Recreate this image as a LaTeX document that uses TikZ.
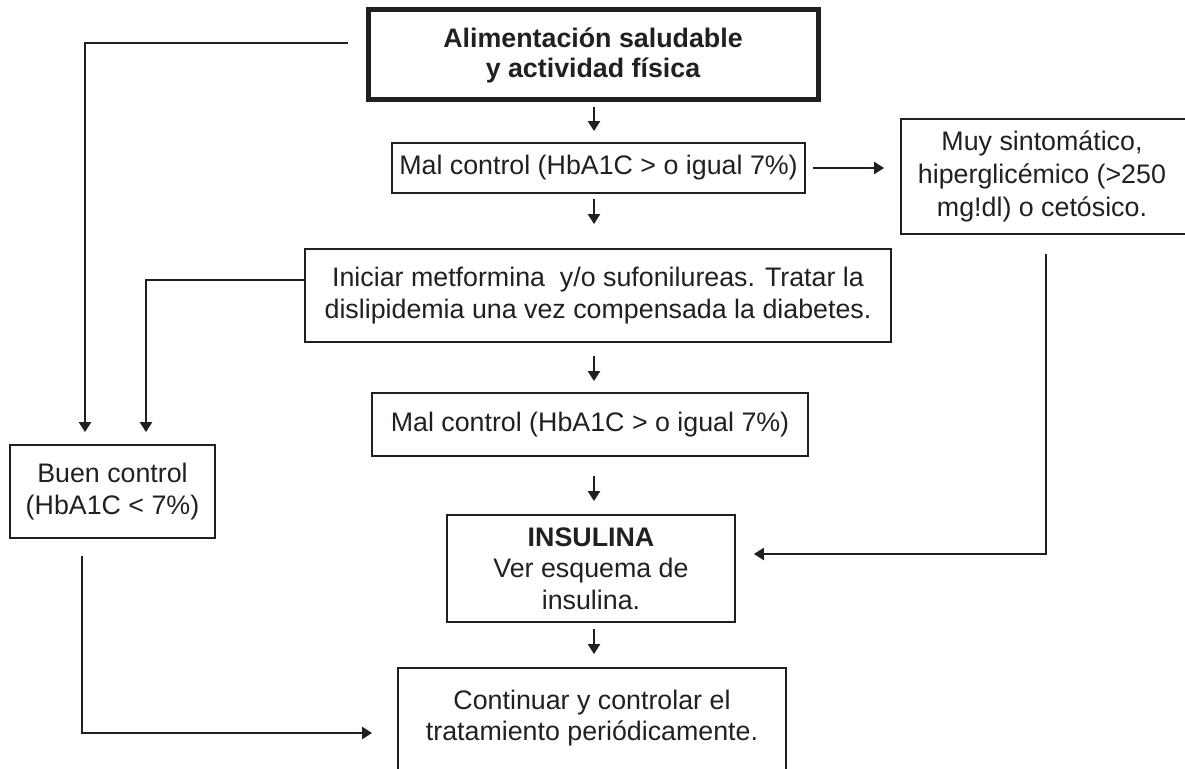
\documentclass[tikz,border=0pt]{standalone}
\usepackage{fontspec}
\setmainfont{Liberation Sans}
\usetikzlibrary{arrows.meta,calc}
\definecolor{ink}{RGB}{35,31,32}
\tikzset{
  box/.style={draw=ink, text=ink, line width=0.9pt, align=center, inner sep=0pt,
    font=\fontsize{13.4}{15.8}\selectfont},
  openbox/.style={box, draw=none},
  link/.style={draw=ink, line width=1.1pt},
  arr/.style={link, -{Triangle[length=5pt,width=6pt]}}
}
\begin{document}
\begin{tikzpicture}[x=0.5pt, y=-0.5pt]
  \useasboundingbox (0,0) rectangle (1185,769);
  \coordinate (spine) at (594,0);
  \coordinate (edgeR) at (1185,0);
  \coordinate (edgeB) at (0,769);

  % Boxes
  \node[box, line width=2.5pt, minimum width=225pt, minimum height=45pt, font=\fontsize{13.4}{15}\selectfont\bfseries]
    (alim) at (593,55) {Alimentación saludable\\y actividad física};
  \node[box, minimum width=206.5pt, minimum height=25pt] (mal1) at (598.5,168) {Mal control (HbA1C > o igual 7\%)};
  \node[openbox, minimum width=140pt, minimum height=56.5pt, font=\fontsize{13.4}{16.5}\selectfont] (muy) at (1042,176.5)
    {Muy sintomático,\\hiperglicémico (>250\\mg!dl) o cetósico.};
  \node[box, minimum width=293pt, minimum height=46.5pt] (inic) at (598,295.5)
    {Iniciar metformina\ \ y/o sufonilureas. Tratar la\\dislipidemia una vez compensada la diabetes.};
  \node[box, minimum width=218pt, minimum height=31.5pt] (mal2) at (590,424.5) {Mal control (HbA1C > o igual 7\%)};
  \node[box, minimum width=144pt, minimum height=53.5pt] (ins) at (591,568.5)
    {\textbf{INSULINA}\\Ver esquema de\\insulina.};
  \node[box, minimum width=102.5pt, minimum height=46.5pt] (buen) at (112.5,491.5) {Buen control\\(HbA1C < 7\%)};
  \node[openbox, minimum width=193pt, minimum height=49pt] (cont) at (592,718)
    {Continuar y controlar el\\tratamiento periódicamente.};

  % Open sides (cut by the page)
  \draw[link, line width=0.9pt] (muy.south -| edgeR) -- (muy.south west) -- (muy.north west) -- (muy.north -| edgeR);
  \draw[link, line width=0.9pt] (cont.west |- edgeB) -- (cont.north west) -- (cont.north east) -- (cont.east |- edgeB);

  % Main column
  \draw[arr, shorten <=2.5pt, shorten >=5.5pt] (alim.south -| spine) -- (mal1.north -| spine);
  \draw[arr, shorten <=2.5pt, shorten >=12pt] (mal1.south -| spine) -- (inic.north -| spine);
  \draw[arr, shorten <=6.5pt, shorten >=5.5pt] (inic.south -| spine) -- (mal2.north -| spine);
  \draw[arr, shorten <=9.5pt, shorten >=6.5pt] (mal2.south -| spine) -- (ins.north -| spine);
  \draw[arr, shorten <=3pt, shorten >=7pt] (ins.south -| spine) -- (cont.north -| spine);

  % Side branches
  \draw[arr, shorten <=3.5pt, shorten >=8.5pt] (mal1.east) -- (mal1.east -| muy.west);
  \draw[arr, shorten <=10pt, shorten >=9pt] ([xshift=2pt]muy.south) |- ([yshift=7.25pt]ins.east);
  \draw[arr, shorten <=9pt, shorten >=6pt] ([yshift=6pt]alim.west) -| ([xshift=-13.75pt]buen.north);
  \draw[arr, shorten >=6pt] ([yshift=7.75pt]inic.west) -| ([xshift=16.75pt]buen.north);
  \draw[arr, shorten <=8.5pt, shorten >=13pt] ([xshift=-15.25pt]buen.south) |- ([yshift=-7.5pt]cont.west);
\end{tikzpicture}
\end{document}
